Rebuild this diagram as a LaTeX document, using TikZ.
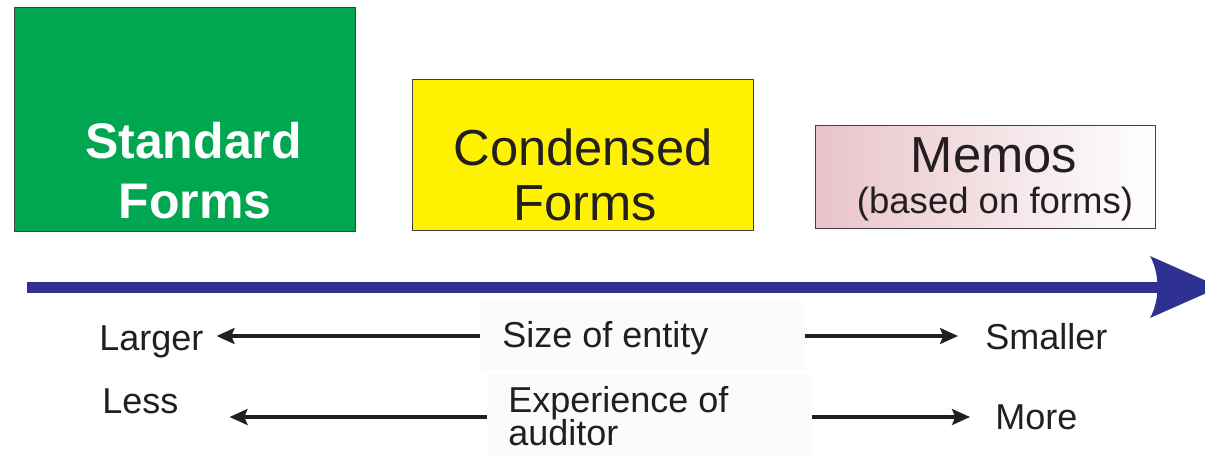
\documentclass[tikz,border=0pt]{standalone}
\usepackage{fontspec}
\setmainfont{Liberation Sans}
\usetikzlibrary{arrows.meta,shadings}
\definecolor{stdgreen}{HTML}{00A650}
\definecolor{condyellow}{HTML}{FFF200}
\definecolor{axisblue}{HTML}{2E3192}
\definecolor{memopink}{RGB}{232,195,201}
\definecolor{txt}{HTML}{231F20}
\definecolor{labelbg}{HTML}{FBFBFB}
\begin{document}
\begin{tikzpicture}[x=0.75pt,y=-0.75pt,
  formbox/.style={draw=black!75, line width=0.75pt, rectangle, inner sep=0pt},
  bigtext/.style={font=\fontsize{38}{45}\selectfont, text=txt, inner sep=0pt, anchor=base},
  boldtext/.style={font=\bfseries\fontsize{37.5}{45}\selectfont, text=white, inner sep=0pt, anchor=base},
  subtext/.style={font=\fontsize{27.4}{30}\selectfont, text=txt, inner sep=0pt, anchor=base},
  smalltext/.style={font=\fontsize{27}{28}\selectfont, text=txt, inner sep=0pt, anchor=base west},
  labelbox/.style={fill=labelbg, draw=none, inner sep=0pt, minimum width=243.75pt},
  sidearrow/.style={-{Stealth[length=13.5pt,width=12pt,inset=2.5pt]}, line width=2.3pt, draw=txt},
]
\useasboundingbox (0,0) rectangle (1205,454);

% boxes
\node[formbox, fill=stdgreen, minimum width=255.75pt, minimum height=168pt] (std) at (184.5,119) {};
\node[boldtext] (stdA) at (193.5,158) {Standard};
\node[boldtext] (stdB) at (195,218) {Forms};

\node[formbox, fill=condyellow, minimum width=255.75pt, minimum height=113.25pt] (cond) at (582.5,154.5) {};
\node[bigtext] (condA) at (583,165) {Condensed};
\node[bigtext] (condB) at (585,220) {Forms};

\node[formbox, left color=memopink, right color=white, minimum width=255pt, minimum height=77.25pt] (memo) at (985,176.5) {};
\node[bigtext] (memoA) at (994,172) {Memos};
\node[subtext] (memoB) at (995,213) {(based on forms)};

% big axis arrow
\coordinate (axstart) at (27,287);
\coordinate (axend) at (1158,287);
\coordinate (axtip) at (1220,287);
\coordinate (headtop) at (1150,256);
\coordinate (headbot) at (1150,318);
\draw[axisblue, line width=8.25pt] (axstart) -- (axend);
\fill[axisblue] (headtop) -- (axtip) -- (headbot) .. controls (1160,300) and (1160,274) .. (headtop) -- cycle;

% label boxes
\node[labelbox, minimum height=51pt] (sizebox) at (642.5,336) {};
\node[labelbox, minimum height=66pt] (expbox) at (649.5,417) {};
\node[smalltext] (sizeT) at (502,347) {Size of entity};
\node[smalltext] (expA) at (508,412) {Experience of};
\node[smalltext] (expB) at (508,445) {auditor};

\node[smalltext] (larger) at (99,350) {Larger};
\node[smalltext] (smaller) at (985,349) {Smaller};
\node[smalltext] (less) at (102,413) {Less};
\node[smalltext] (more) at (995,429) {More};

% side arrows
\draw[sidearrow, shorten >=9.75pt] (sizebox.west) -- (sizebox.west -| larger.east);
\draw[sidearrow, shorten >=20.25pt] (sizebox.east) -- (sizebox.east -| smaller.west);
\draw[sidearrow, shorten >=38.25pt] (expbox.west) -- (expbox.west -| less.east);
\draw[sidearrow, shorten >=18.75pt] (expbox.east) -- (expbox.east -| more.west);
\end{tikzpicture}
\end{document}
